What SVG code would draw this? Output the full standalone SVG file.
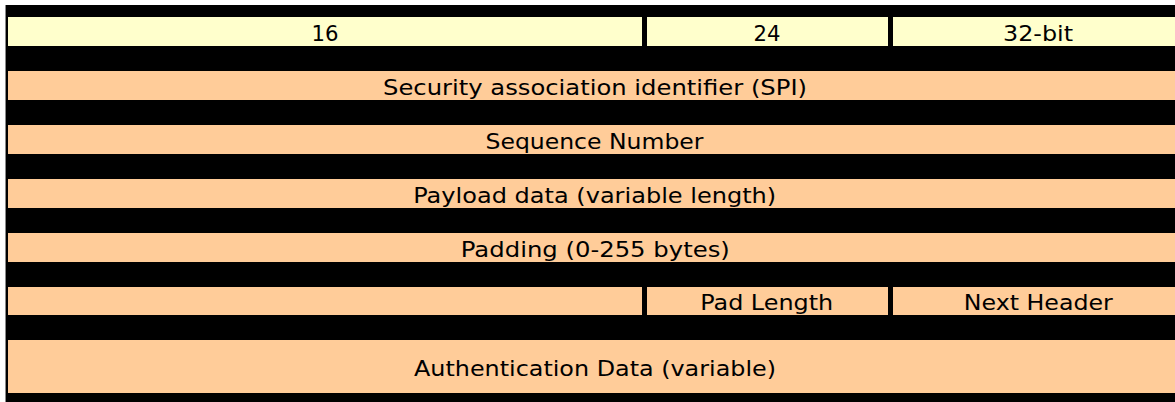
<svg xmlns="http://www.w3.org/2000/svg" width="1175" height="402" viewBox="0 0 1175 402">
  <style>
    .hdr { fill: #FFFFCC; }
    .fld { fill: #FFCC99; }
    text { font-family: "DejaVu Sans", Verdana, sans-serif; font-size: 22px; fill: #000; text-anchor: middle; }
  </style>
  <rect x="0" y="0" width="1175" height="402" fill="#ffffff"/>
  <rect id="table-bg" x="5" y="5" width="1170" height="397" fill="#000000"/>
  <line x1="5.5" y1="5" x2="5.5" y2="402" stroke="#8a8a8a" stroke-width="1"/>

  <g id="hdr16">
    <rect class="hdr" x="8" y="17" width="634" height="29"/>
    <text x="325" y="41" textLength="27" lengthAdjust="spacingAndGlyphs">16</text>
  </g>
  <g id="hdr24">
    <rect class="hdr" x="647" y="17" width="241" height="29"/>
    <text x="767" y="41" textLength="27" lengthAdjust="spacingAndGlyphs">24</text>
  </g>
  <g id="hdr32">
    <rect class="hdr" x="893" y="17" width="282" height="29"/>
    <text x="1038" y="41" textLength="70" lengthAdjust="spacingAndGlyphs">32-bit</text>
  </g>

  <g id="spi">
    <rect class="fld" x="8" y="71" width="1167" height="29"/>
    <text x="595" y="94.5" textLength="424" lengthAdjust="spacingAndGlyphs">Security association identifier (SPI)</text>
  </g>
  <g id="seq">
    <rect class="fld" x="8" y="125" width="1167" height="29"/>
    <text x="594.5" y="148.5" textLength="218" lengthAdjust="spacingAndGlyphs">Sequence Number</text>
  </g>
  <g id="payload">
    <rect class="fld" x="8" y="179" width="1167" height="29"/>
    <text x="594.7" y="202.5" textLength="363" lengthAdjust="spacingAndGlyphs">Payload data (variable length)</text>
  </g>
  <g id="padding">
    <rect class="fld" x="8" y="233" width="1167" height="29"/>
    <text x="595.3" y="256.5" textLength="269" lengthAdjust="spacingAndGlyphs">Padding (0-255 bytes)</text>
  </g>

  <g id="blank">
    <rect class="fld" x="8" y="287" width="634" height="28"/>
  </g>
  <g id="padlen">
    <rect class="fld" x="647" y="287" width="241" height="28"/>
    <text x="766.7" y="309.5" textLength="133" lengthAdjust="spacingAndGlyphs">Pad Length</text>
  </g>
  <g id="nexthdr">
    <rect class="fld" x="893" y="287" width="282" height="28"/>
    <text x="1038.3" y="309.5" textLength="149" lengthAdjust="spacingAndGlyphs">Next Header</text>
  </g>

  <g id="auth">
    <rect class="fld" x="8" y="340" width="1167" height="53"/>
    <text x="595" y="375.5" textLength="362" lengthAdjust="spacingAndGlyphs">Authentication Data (variable)</text>
  </g>

  <g id="connectors"></g>
</svg>
